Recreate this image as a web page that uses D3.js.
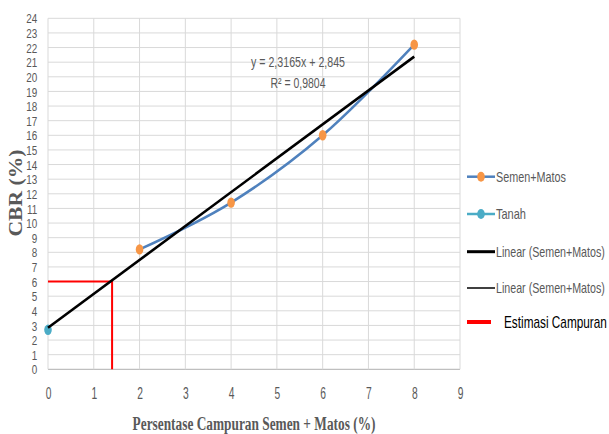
<!DOCTYPE html>
<html>
<head>
<meta charset="utf-8">
<script src="https://cdn.jsdelivr.net/npm/d3@7"></script>
<style>
  html, body { margin: 0; padding: 0; background: #fff; }
  svg { display: block; }
</style>
</head>
<body>
<svg id="chart" width="609" height="434"></svg>
<script>
// ---------- data ----------
const semenX = [2, 4, 6, 8];
const semenY = [8.2, 11.4, 16.0, 22.2];
const tanahX = [0];
const tanahY = [2.7];
const trendSlope = 2.3165;
const trendIntercept = 2.845;
const trendRange = [0, 8];
const estX = [0, 1.4, 1.4];
const estY = [6, 6, 0];
const xTicks = [0, 1, 2, 3, 4, 5, 6, 7, 8, 9];
const yTicks = d3.range(0, 25);
const legendLabels = ["Semen+Matos", "Tanah", "Linear (Semen+Matos)", "Linear (Semen+Matos)", "Estimasi Campuran"];
const eqLine1 = "y = 2,3165x + 2,845";
const eqLine2 = "R\u00B2 = 0,9804";
const xTitle = "Persentase Campuran Semen + Matos (%)";
const yTitle = "CBR (%)";

// ---------- layout ----------
const svg = d3.select("#chart");
const x = d3.scaleLinear().domain([0, 9]).range([48, 460]);
const y = d3.scaleLinear().domain([0, 24]).range([369.3, 18.3]);
const SANS = "'Liberation Sans', Arial, sans-serif";
const SERIF = "'Liberation Serif', 'Times New Roman', serif";
const GRAY = "#595959";
const BLUE = "#4f81bd", ORANGE = "#f79646", TEAL = "#4bacc6", RED = "#ff0000";

// text helper: horizontally squeezed text fitted to a target width
function fitText(parent, str, cx, cy, width, opts) {
  const g = parent.append("g");
  const t = g.append("text")
    .attr("x", 0).attr("y", 0).attr("dy", opts.dy || "0.36em")
    .attr("text-anchor", opts.anchor || "middle")
    .attr("font-family", opts.family || SANS)
    .attr("font-size", opts.size || 14)
    .attr("font-weight", opts.weight || "normal")
    .attr("fill", opts.fill || GRAY)
    .text(str);
  const w = t.node().getComputedTextLength() || width;
  const s = width / w;
  g.attr("transform", `translate(${cx},${cy}) scale(${s},1)`);
  return t;
}

// gridlines
const grid = svg.append("g");
grid.selectAll("line.h").data(yTicks).join("line")
  .attr("x1", x(0)).attr("x2", x(9))
  .attr("y1", d => y(d)).attr("y2", d => y(d))
  .attr("stroke", d => d === 0 ? "#bfbfbf" : "#d9d9d9").attr("stroke-width", d => d === 0 ? 1.3 : 1);
grid.selectAll("line.v").data(xTicks).join("line")
  .attr("y1", y(0)).attr("y2", y(24))
  .attr("x1", d => x(d)).attr("x2", d => x(d))
  .attr("stroke", "#d9d9d9").attr("stroke-width", 1);

// axes (labels only)
const ySx = 0.76;
const yAxis = svg.append("g").attr("transform", `translate(${x(0)},0)`)
  .call(d3.axisLeft(y).tickValues(yTicks).tickSize(0).tickPadding(0));
yAxis.select(".domain").remove();
yAxis.selectAll("text")
  .attr("font-family", SANS).attr("font-size", 13).attr("fill", GRAY)
  .attr("x", -10.7 / ySx).attr("dy", "0.36em")
  .attr("transform", `scale(${ySx},1)`);

const xAxis = svg.append("g").attr("transform", `translate(0,${y(0)})`)
  .call(d3.axisBottom(x).tickValues(xTicks).tickSize(0).tickPadding(0));
xAxis.select(".domain").remove();
xAxis.selectAll("text")
  .attr("font-family", SANS).attr("font-size", 16).attr("fill", GRAY)
  .attr("x", 0).attr("y", 24).attr("dy", "0.36em")
  .attr("transform", "scale(0.64,1)");

// estimate lines
const estPts = estX.map((v, i) => [v, estY[i]]);
svg.append("path")
  .attr("d", d3.line().x(d => x(d[0])).y(d => y(d[1]))(estPts))
  .attr("fill", "none").attr("stroke", RED).attr("stroke-width", 2);

// Semen+Matos smoothed line
const semenPts = semenX.map((v, i) => [v, semenY[i]]);
svg.append("path")
  .attr("d", d3.line().x(d => x(d[0])).y(d => y(d[1])).curve(d3.curveCardinal.tension(0))(semenPts))
  .attr("fill", "none").attr("stroke", BLUE).attr("stroke-width", 2.5);

svg.append("g").selectAll("ellipse").data(semenPts).join("ellipse")
  .attr("cx", d => x(d[0])).attr("cy", d => y(d[1]))
  .attr("rx", 3.8).attr("ry", 5.2).attr("fill", ORANGE);

const tanahPts = tanahX.map((v, i) => [v, tanahY[i]]);
svg.append("g").selectAll("ellipse").data(tanahPts).join("ellipse")
  .attr("cx", d => x(d[0])).attr("cy", d => y(d[1]))
  .attr("rx", 3.8).attr("ry", 5.2).attr("fill", TEAL);

// trend line
const trendPts = trendRange.map(v => [v, trendSlope * v + trendIntercept]);
svg.append("path")
  .attr("d", d3.line().x(d => x(d[0])).y(d => y(d[1]))(trendPts))
  .attr("fill", "none").attr("stroke", "#000").attr("stroke-width", 2.6);

// equation text
fitText(svg, eqLine1, 298, 61.7, 94, { size: 14 });
fitText(svg, eqLine2, 298, 83, 55, { size: 14 });

// axis titles
fitText(svg, xTitle, 254, 423, 243, { family: SERIF, weight: "bold", size: 19, fill: GRAY });
const yt = svg.append("g").attr("transform", "translate(16,193) rotate(-90)");
fitText(yt, yTitle, 0, 0, 87, { family: SERIF, weight: "bold", size: 18, fill: GRAY });

// legend
const legend = svg.append("g");
const legY = [176.7, 214, 251.7, 288, 322];
const legW = [70, 30, 109, 109, 103];
legend.append("line").attr("x1", 467).attr("x2", 495).attr("y1", legY[0]).attr("y2", legY[0])
  .attr("stroke", BLUE).attr("stroke-width", 2.5);
legend.append("ellipse").attr("cx", 481).attr("cy", legY[0]).attr("rx", 3.8).attr("ry", 5).attr("fill", ORANGE);
legend.append("line").attr("x1", 467).attr("x2", 495).attr("y1", legY[1]).attr("y2", legY[1])
  .attr("stroke", TEAL).attr("stroke-width", 2.5);
legend.append("ellipse").attr("cx", 481).attr("cy", legY[1]).attr("rx", 3.8).attr("ry", 5).attr("fill", TEAL);
legend.append("line").attr("x1", 467).attr("x2", 495).attr("y1", legY[2]).attr("y2", legY[2])
  .attr("stroke", "#000").attr("stroke-width", 3);
legend.append("line").attr("x1", 467).attr("x2", 495).attr("y1", legY[3]).attr("y2", legY[3])
  .attr("stroke", "#000").attr("stroke-width", 1.5);
legend.append("line").attr("x1", 467).attr("x2", 491).attr("y1", legY[4]).attr("y2", legY[4])
  .attr("stroke", RED).attr("stroke-width", 4);

legendLabels.forEach((lab, i) => {
  if (i < 4) {
    fitText(legend, lab, 496, legY[i], legW[i], { anchor: "start", size: 14 });
  } else {
    fitText(legend, lab, 504, legY[i], legW[i], { anchor: "start", size: 16, fill: "#000" });
  }
});
</script>
</body>
</html>
